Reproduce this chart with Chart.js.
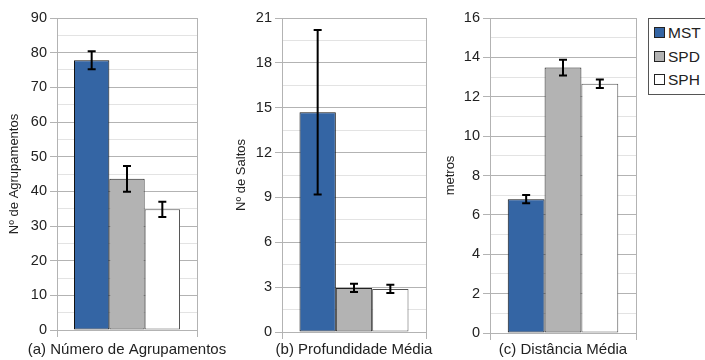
<!DOCTYPE html>
<html>
<head>
<meta charset="utf-8">
<script src="https://cdn.jsdelivr.net/npm/chart.js@4/dist/chart.umd.min.js"></script>
<style>
  body { margin: 0; background: #fff; width: 705px; height: 360px; overflow: hidden; position: relative; font-family: 'Liberation Sans', Arial, sans-serif; }
  canvas { position: absolute; top: 0; }
  #legend { position: absolute; left: 648px; top: 18px; width: 70px; height: 77px; border: 1px solid #555; box-sizing: border-box; }
  #legend div { position: absolute; left: 5px; font-size: 15.5px; color: #222; line-height: 18px; }
  #legend span { display: inline-block; width: 9px; height: 9px; border: 1px solid #222; margin-right: 3px; vertical-align: 0px; }
</style>
</head>
<body>
<canvas id="chartA" width="226" height="360" style="left:0px"></canvas>
<canvas id="chartB" width="214" height="360" style="left:226px"></canvas>
<canvas id="chartC" width="200" height="360" style="left:440px"></canvas>
<div id="legend"></div>

<script>
// series and colours
const seriesNames = ['MST', 'SPD', 'SPH'];
const seriesFill = ['#3465a4', '#b3b3b3', '#ffffff'];
const seriesBorder = ['#111111', '#222222', '#555555'];

// (a) número de agrupamentos
const clusterMean = [77.8, 43.6, 34.8];
const clusterErr = [2.6, 3.7, 2.2];
// (b) profundidade média
const depthMean = [14.7, 2.95, 2.88];
const depthErr = [5.5, 0.27, 0.28];
// (c) distância média
const distMean = [6.8, 13.48, 12.66];
const distErr = [0.21, 0.4, 0.22];

const FONT = "'Liberation Sans', Arial, sans-serif";
const MAJOR = '#b3b3b3', MINOR = '#e3e3e3';

// draws the +/- error whiskers on top of each bar
const errorBars = {
  id: 'errorBars',
  afterDatasetsDraw(chart) {
    const ctx = chart.ctx, y = chart.scales.y;
    ctx.save();
    ctx.strokeStyle = '#000';
    ctx.lineWidth = 2;
    chart.data.datasets.forEach((ds, i) => {
      const bar = chart.getDatasetMeta(i).data[0];
      const v = ds.data[0], e = ds.err;
      const top = y.getPixelForValue(v + e), bot = y.getPixelForValue(v - e);
      ctx.beginPath();
      ctx.moveTo(bar.x, top); ctx.lineTo(bar.x, bot);
      ctx.moveTo(bar.x - 4, top); ctx.lineTo(bar.x + 4, top);
      ctx.moveTo(bar.x - 4, bot); ctx.lineTo(bar.x + 4, bot);
      ctx.stroke();
    });
    ctx.restore();
  }
};

// caption under each panel; the built-in axis title squeezes text to the plot width
const caption = {
  id: 'caption',
  afterDraw(chart, args, opts) {
    const ctx = chart.ctx, area = chart.chartArea;
    ctx.save();
    ctx.font = '15px ' + FONT;
    ctx.fillStyle = '#222';
    ctx.textAlign = 'center';
    ctx.textBaseline = 'middle';
    ctx.fillText(opts.text, (area.left + area.right) / 2, opts.y);
    ctx.restore();
  }
};

function makeChart(id, values, errs, cfg) {
  const datasets = seriesNames.map((name, i) => ({
    label: name,
    data: [values[i]],
    err: errs[i],
    backgroundColor: seriesFill[i],
    borderColor: seriesBorder[i],
    borderWidth: 1,
    borderSkipped: false,
    barPercentage: 1,
    categoryPercentage: 0.757
  }));
  return new Chart(document.getElementById(id), {
    type: 'bar',
    data: { labels: [''], datasets: datasets },
    plugins: [errorBars, caption],
    options: {
      responsive: false,
      animation: false,
      events: [],
      layout: { padding: { top: 18, right: cfg.padRight, left: 0, bottom: 0 } },
      plugins: {
        legend: { display: false },
        tooltip: { enabled: false },
        caption: { text: cfg.xTitle, y: 350 }
      },
      scales: {
        x: {
          afterFit: (s) => { s.height = cfg.xHeight; },
          ticks: { display: false },
          grid: { offset: true, color: MAJOR, tickLength: 7 },
          border: { color: MAJOR }
        },
        y: {
          min: 0, max: cfg.max,
          afterFit: (s) => { s.width = cfg.yWidth; },
          ticks: {
            stepSize: cfg.step / 2, autoSkip: false, padding: 3,
            color: '#222', font: { family: FONT, size: 14.5 },
            callback: (v, i) => (i % 2 === 0 ? v : '')
          },
          grid: {
            tickLength: 7,
            color: (c) => (c.index % 2 === 0 ? MAJOR : MINOR),
            tickColor: (c) => (c.index % 2 === 0 ? MAJOR : 'rgba(0,0,0,0)')
          },
          border: { color: MAJOR },
          title: {
            display: true, text: cfg.yTitle, color: '#222',
            font: { family: FONT, size: 13 }, padding: { top: cfg.yTitlePad, bottom: 0 }
          }
        }
      }
    }
  });
}

makeChart('chartA', clusterMean, clusterErr, {
  max: 90, step: 10, yWidth: 57, xHeight: 30, padRight: 29, yTitlePad: 7,
  yTitle: 'Nº de Agrupamentos', xTitle: '(a) Número de Agrupamentos'
});
makeChart('chartB', depthMean, depthErr, {
  max: 21, step: 3, yWidth: 56, xHeight: 28, padRight: 14, yTitlePad: 8,
  yTitle: 'Nº de Saltos', xTitle: '(b) Profundidade Média'
});
makeChart('chartC', distMean, distErr, {
  max: 16, step: 2, yWidth: 50, xHeight: 27, padRight: 4, yTitlePad: 3,
  yTitle: 'metros', xTitle: '(c) Distância Média'
});

// legend box
const legend = document.getElementById('legend');
seriesNames.forEach((name, i) => {
  const row = document.createElement('div');
  row.style.top = (5 + i * 23.5) + 'px';
  row.innerHTML = '<span style="background:' + seriesFill[i] + '"></span>' + name;
  legend.appendChild(row);
});
</script>
</body>
</html>
